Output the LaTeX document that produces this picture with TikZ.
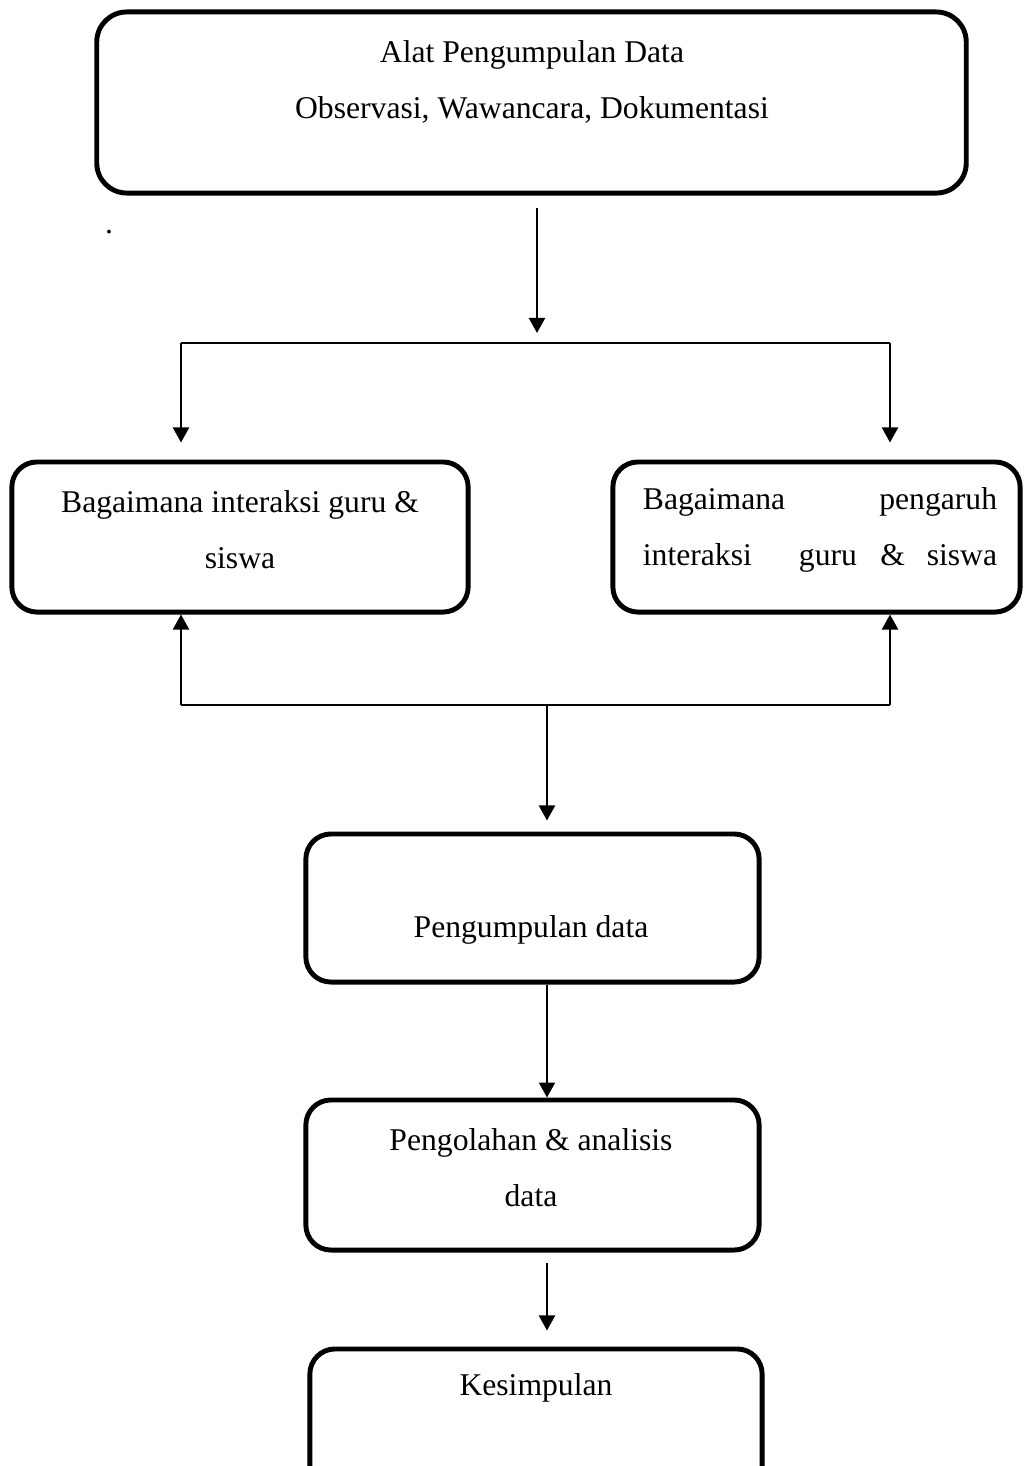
\documentclass[tikz,border=0pt]{standalone}
\usepackage{fontspec}
\setmainfont{Liberation Serif}
\usetikzlibrary{arrows.meta, calc}

\begin{document}
\begin{tikzpicture}[x=0.01cm, y=-0.01cm,
  kotak/.style={draw, line width=1.4pt, rounded corners=0.25cm, inner sep=0pt},
  teks/.style={inner sep=0pt, align=center, font=\fontsize{9}{15.93}\selectfont},
  panah/.style={line width=0.6pt, -{Triangle[length=0.15cm, width=0.16cm]}},
  garis/.style={line width=0.6pt}]
  \useasboundingbox (0,0) rectangle (1025,1466);

  \node[kotak, rounded corners=0.3cm, minimum width=8.69cm, minimum height=1.81cm] (alat) at (531.5,102.5) {};
  \node[kotak, minimum width=4.56cm, minimum height=1.50cm] (kiri) at (240,537) {};
  \node[kotak, minimum width=4.07cm, minimum height=1.50cm] (kanan) at (816.5,537) {};
  \node[kotak, minimum width=4.53cm, minimum height=1.48cm] (kumpul) at (532.5,908) {};
  \node[kotak, minimum width=4.53cm, minimum height=1.50cm] (olah) at (532.5,1175) {};
  \node[kotak, minimum width=4.52cm, minimum height=1.51cm] (simpul) at (536,1424.5) {};

  \node[teks] (alat-t) at (532,82) {Alat Pengumpulan Data\\Observasi, Wawancara, Dokumentasi};
  \node[teks] (titik) at (109,232) {.};
  \node[teks] (kiri-t) at (240,530) {Bagaimana interaksi guru \&\\siswa};
  \node[teks, align=left, text width=3.54cm] (kanan-t) at (820,530)
    {Bagaimana\hfill pengaruh\\interaksi\hspace{\stretch{5.0}}guru\hspace{\stretch{2.5}}\&\hspace{\stretch{2.3}}siswa};
  \node[teks, anchor=base] (kumpul-t) at (531,937) {Pengumpulan data};
  \node[teks] (olah-t) at (531,1168) {Pengolahan \& analisis\\data};
  \node[teks, anchor=base] (simpul-t) at (536,1395) {Kesimpulan};

  \coordinate (cabang1) at (537,343);
  \coordinate (atasL) at (181,343);
  \coordinate (atasR) at (890,343);
  \coordinate (bawahL) at (181,705);
  \coordinate (bawahR) at (890,705);
  \coordinate (cabang2) at (547,705);

  \draw[panah, shorten <=0.12cm, shorten >=0.1cm] (alat.south -| cabang1) -- (cabang1);
  \draw[garis] (atasL) -- (atasR);
  \draw[panah, shorten >=0.17cm] (atasL) -- (kiri.north -| atasL);
  \draw[panah, shorten >=0.17cm] (atasR) -- (kanan.north -| atasR);
  \draw[garis] (bawahL) -- (bawahR);
  \draw[panah] (bawahL) -- (kiri.south -| bawahL);
  \draw[panah] (bawahR) -- (kanan.south -| bawahR);
  \draw[panah, shorten >=0.11cm] (cabang2) -- (kumpul.north -| cabang2);
  \draw[panah] (kumpul.south -| cabang2) -- (olah.north -| cabang2);
  \draw[panah, shorten <=0.1cm, shorten >=0.16cm] (olah.south -| cabang2) -- (simpul.north -| cabang2);
\end{tikzpicture}
\end{document}
